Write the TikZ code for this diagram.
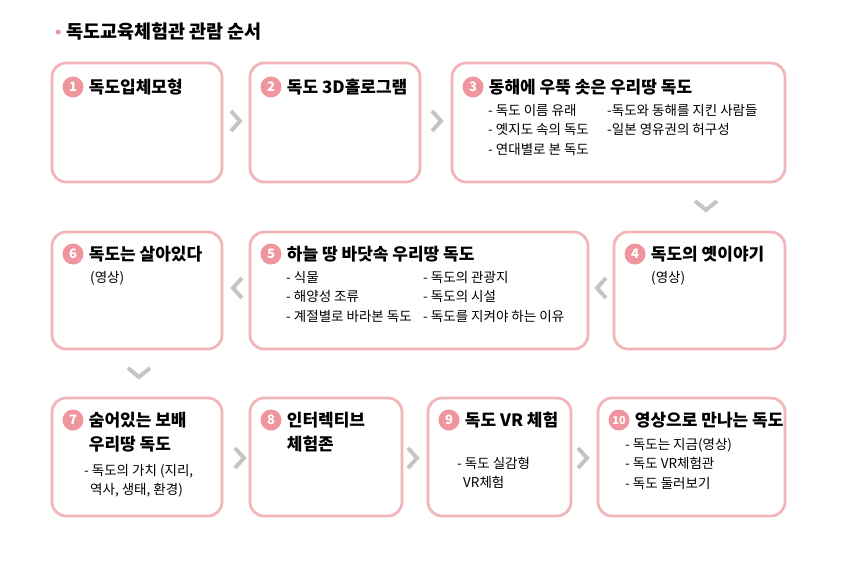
\documentclass[tikz,border=0pt]{standalone}
\usepackage{fontspec}
\setmainfont{Noto Sans CJK KR}
\usetikzlibrary{positioning}
\definecolor{pinkline}{HTML}{F2B5B9}
\definecolor{pinkdot}{HTML}{EE959D}
\definecolor{chev}{HTML}{C4C4C4}
\tikzset{
  stagebox/.style={draw=pinkline, line width=2.8pt, rounded corners=14pt, fill=white},
  num/.style={circle, fill=pinkdot, text=white, inner sep=0pt, minimum size=21pt, font=\bfseries\fontsize{13}{13}\selectfont},
  head/.style={anchor=west, inner sep=0pt, font=\bfseries\fontsize{17}{24}\selectfont, align=left},
  sub/.style={anchor=north west, inner sep=0pt, font=\fontsize{13.5}{19.5}\selectfont, align=left},
  chevright/.style={chev, line width=4pt},
}
\begin{document}
\begin{tikzpicture}[x=1pt, y=-1pt]
\useasboundingbox (0,0) rectangle (842,574);

% title
\node [anchor=west, inner sep=0pt, font=\bfseries\fontsize{18.5}{18}\selectfont] (title) at (66,32) {독도교육체험관 관람 순서};
\node [circle, fill=pinkdot, inner sep=0pt, minimum size=5pt, left=5pt of title] (bullet) {};

% row 1
\draw [stagebox] (52,63) rectangle (222,182);
\draw [stagebox] (250,63) rectangle (420,182);
\draw [stagebox] (452,63) rectangle (785,182);
% row 2
\draw [stagebox] (52,232) rectangle (222,349);
\draw [stagebox] (250,232) rectangle (588,349);
\draw [stagebox] (614,232) rectangle (785,349);
% row 3
\draw [stagebox] (52,398) rectangle (222,516);
\draw [stagebox] (250,398) rectangle (402,516);
\draw [stagebox] (428,398) rectangle (571,516);
\draw [stagebox] (598,398) rectangle (785,516);

% numbers and headings
\node [num] (n1) at (73,87) {1};
\node [head, right=5pt of n1] (h1) {독도입체모형};
\node [num] (n2) at (271,87) {2};
\node [head, right=5pt of n2] (h2) {독도 3D홀로그램};
\node [num] (n3) at (473,87) {3};
\node [head, right=5pt of n3] (h3) {동해에 우뚝 솟은 우리땅 독도};
\node [num] (n4) at (635,254) {4};
\node [head, right=5pt of n4] (h4) {독도의 옛이야기};
\node [num] (n5) at (271,254) {5};
\node [head, right=5pt of n5] (h5) {하늘 땅 바닷속 우리땅 독도};
\node [num] (n6) at (73,254) {6};
\node [head, right=5pt of n6] (h6) {독도는 살아있다};
\node [num] (n7) at (73,420) {7};
\node [head, anchor=north west, right=5pt of n7, yshift=-12pt] (h7) {숨어있는 보배\\우리땅 독도};
\node [num] (n8) at (271,420) {8};
\node [head, anchor=north west, right=5pt of n8, yshift=-12pt] (h8) {인터렉티브\\체험존};
\node [num] (n9) at (449,420) {9};
\node [head, right=5pt of n9] (h9) {독도 VR 체험};
\node [num, font=\bfseries\fontsize{11}{11}\selectfont] (n10) at (619,420) {10};
\node [head, right=5pt of n10] (h10) {영상으로 만나는 독도};

% details
\node [sub] (s3a) at (488,104) {- 독도 이름 유래\\- 옛지도 속의 독도\\- 연대별로 본 독도};
\node [sub] (s3b) at (607,104) {-독도와 동해를 지킨 사람들\\-일본 영유권의 허구성};
\node [sub] (s4) at (651,271) {(영상)};
\node [sub] (s5a) at (286,271) {- 식물\\- 해양성 조류\\- 계절별로 바라본 독도};
\node [sub] (s5b) at (423,271) {- 독도의 관광지\\- 독도의 시설\\- 독도를 지켜야 하는 이유};
\node [sub] (s6) at (90,271) {(영상)};
\node [sub] (s7) at (84,464) {- 독도의 가치 (지리,\\\hspace*{6pt}역사, 생태, 환경)};
\node [sub] (s9) at (457,457) {- 독도 실감형\\\hspace*{6pt}VR체험};
\node [sub] (s10) at (625,438) {- 독도는 지금(영상)\\- 독도 VR체험관\\- 독도 둘러보기};

% chevrons
\foreach \cx/\cy in {236/121, 437/121, 240/458, 413/458, 583/458}
  \draw [chevright] (\cx-5,\cy-10) -- (\cx+4,\cy) -- (\cx-5,\cy+10);
\foreach \cx/\cy in {601/288, 237/288}
  \draw [chevright] (\cx+5,\cy-10) -- (\cx-4,\cy) -- (\cx+5,\cy+10);
\foreach \cx/\cy in {706/206, 139/373}
  \draw [chevright] (\cx-11,\cy-5) -- (\cx,\cy+4) -- (\cx+11,\cy-5);
\end{tikzpicture}
\end{document}
